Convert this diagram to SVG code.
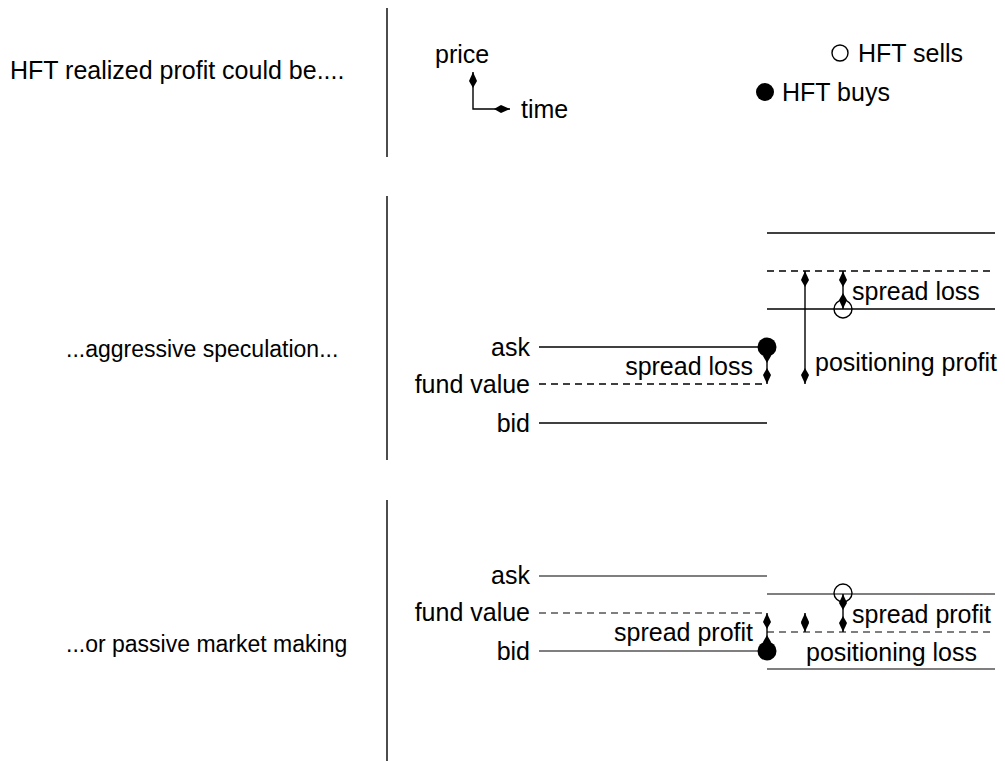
<svg xmlns="http://www.w3.org/2000/svg" width="1005" height="761" viewBox="0 0 1005 761">
<style>
text{font-family:"Liberation Sans",Arial,sans-serif;font-size:25px;fill:#000}
.cap{font-size:23px}
.e{text-anchor:end}
.ln{stroke:#000;stroke-width:1.4;fill:none}
.lg{stroke:#555;stroke-width:1.4;fill:none}
.d{stroke-dasharray:7,5}
.ar{stroke:#000;stroke-width:1.4;fill:none;marker-start:url(#h);marker-end:url(#h)}
.fc{fill:#000}
.oc{fill:none;stroke:#000;stroke-width:1.4}
</style>
<defs>
<marker id="h" viewBox="0 0 16 9" refX="16" refY="4.5" markerWidth="16" markerHeight="9" markerUnits="userSpaceOnUse" orient="auto-start-reverse">
<path d="M0,4.5 L7,0.5 L16,4.5 L7,8.5 Z" fill="#000"/>
</marker>
</defs>
<g id="dividers">
<line class="ln" x1="387" y1="8" x2="387" y2="157"/>
<line class="ln" x1="387" y1="196" x2="387" y2="460"/>
<line class="ln" x1="387" y1="500" x2="387" y2="761"/>
</g>
<g id="captions">
<text x="10" y="79">HFT realized profit could be....</text>
<text class="cap" x="66" y="357">...aggressive speculation...</text>
<text class="cap" x="66" y="652">...or passive market making</text>
</g>
<g id="legend">
<text x="435" y="63">price</text>
<text x="521" y="118">time</text>
<path class="ar" d="M473,72 L473,109 L510,109"/>
<circle class="oc" cx="840" cy="53" r="8"/>
<text x="858" y="62">HFT sells</text>
<circle class="fc" cx="765" cy="92" r="9"/>
<text x="782" y="101">HFT buys</text>
</g>
<g id="aggressive">
<text class="e" x="530" y="356">ask</text>
<text class="e" x="530" y="393">fund value</text>
<text class="e" x="530" y="432">bid</text>
<line class="ln" x1="539" y1="347" x2="767" y2="347"/>
<line class="ln d" x1="539" y1="384" x2="767" y2="384"/>
<line class="ln" x1="539" y1="423" x2="767" y2="423"/>
<line class="ln" x1="767" y1="233" x2="995" y2="233"/>
<line class="ln d" x1="767" y1="271" x2="995" y2="271"/>
<line class="ln" x1="767" y1="309" x2="995" y2="309"/>
<text class="e" x="753" y="375">spread loss</text>
<text x="815" y="371">positioning profit</text>
<text x="852" y="300">spread loss</text>
</g>
<g id="passive">
<text class="e" x="530" y="584">ask</text>
<text class="e" x="530" y="621">fund value</text>
<text class="e" x="530" y="660">bid</text>
<line class="lg" x1="539" y1="576" x2="767" y2="576"/>
<line class="lg d" x1="539" y1="613" x2="767" y2="613"/>
<line class="lg" x1="539" y1="651" x2="767" y2="651"/>
<line class="lg" x1="767" y1="594" x2="995" y2="594"/>
<line class="lg d" x1="767" y1="632" x2="995" y2="632"/>
<line class="lg" x1="767" y1="669" x2="995" y2="669"/>
<text class="e" x="753" y="641">spread profit</text>
<text x="852" y="623">spread profit</text>
<text x="806" y="661">positioning loss</text>
</g>
<g id="connectors">
<line class="ar" x1="767" y1="347" x2="767" y2="384"/>
<line class="ar" x1="805" y1="271" x2="805" y2="384"/>
<line class="ar" x1="843" y1="271" x2="843" y2="309"/>
<line class="ar" x1="767" y1="651" x2="767" y2="613"/>
<line class="ar" x1="805" y1="613" x2="805" y2="632"/>
<line class="ar" x1="843" y1="594" x2="843" y2="632"/>
</g>
<g id="markers">
<circle class="fc" cx="767" cy="347" r="9.5"/>
<circle class="oc" cx="843" cy="309" r="9"/>
<circle class="fc" cx="767" cy="651" r="9.5"/>
<circle class="oc" cx="843" cy="593" r="9"/>
</g>
</svg>
